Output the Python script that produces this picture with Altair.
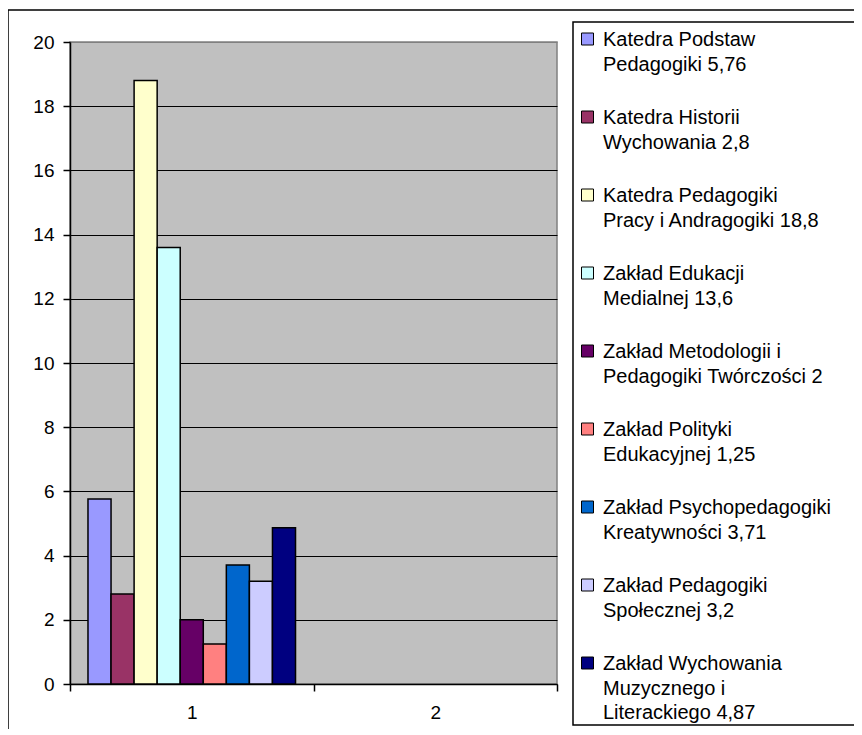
import altair as alt
import pandas as pd

series = [
    "Katedra Podstaw Pedagogiki",
    "Katedra Historii Wychowania",
    "Katedra Pedagogiki Pracy i Andragogiki",
    "Zakład Edukacji Medialnej",
    "Zakład Metodologii i Pedagogiki Twórczości",
    "Zakład Polityki Edukacyjnej",
    "Zakład Psychopedagogiki Kreatywności",
    "Zakład Pedagogiki Społecznej",
    "Zakład Wychowania Muzycznego i Literackiego",
]
labels = [
    "Katedra Podstaw\nPedagogiki 5,76",
    "Katedra Historii\nWychowania 2,8",
    "Katedra Pedagogiki\nPracy i Andragogiki 18,8",
    "Zakład Edukacji\nMedialnej 13,6",
    "Zakład Metodologii i\nPedagogiki Twórczości 2",
    "Zakład Polityki\nEdukacyjnej 1,25",
    "Zakład Psychopedagogiki\nKreatywności 3,71",
    "Zakład Pedagogiki\nSpołecznej 3,2",
    "Zakład Wychowania\nMuzycznego i\nLiterackiego 4,87",
]
values = [5.76, 2.8, 18.8, 13.6, 2, 1.25, 3.71, 3.2, 4.87]
colors = ["#9999FF", "#993366", "#FFFFCC", "#CCFFFF", "#660066",
          "#FF8080", "#0066CC", "#CCCCFF", "#000080"]
categories = ["1", "2"]

df = pd.DataFrame({"cat": ["1"] * len(series), "series": series,
                   "value": values, "label": labels})
one = pd.DataFrame({"a": [0]})

FONT = "Liberation Sans"
W, H = 487, 642

color = alt.Color("series:N", scale=alt.Scale(domain=series, range=colors), legend=None)

bars = alt.Chart(df).mark_bar(stroke="black", strokeWidth=1.5).encode(
    x=alt.X("cat:N", scale=alt.Scale(domain=categories, paddingInner=0, paddingOuter=0),
            axis=alt.Axis(title=None, labelAngle=0, tickBand="extent", tickSize=7,
                          labelPadding=12, labelFontSize=19, labelFont=FONT,
                          labelColor="black", domainColor="black", domainWidth=1.5,
                          tickColor="black", tickWidth=1.5, grid=False)),
    xOffset=alt.XOffset("series:N", scale=alt.Scale(domain=series, paddingInner=0, paddingOuter=0.78)),
    y=alt.Y("value:Q", scale=alt.Scale(domain=[0, 20], nice=False),
            axis=alt.Axis(title=None, values=list(range(0, 21, 2)), tickSize=7,
                          labelPadding=9, labelFontSize=19, labelFont=FONT,
                          labelColor="black", domainColor="black", domainWidth=1.5,
                          tickColor="black", tickWidth=1.5,
                          gridColor=alt.condition("datum.value == 20", alt.value("#808080"), alt.value("black")),
                          gridWidth=1, gridOpacity=1)),
    color=color,
)

leg_y = alt.Y("series:N", scale=alt.Scale(type="point", domain=series, range=[-3, 621], padding=0),
              axis=None)

symbols = alt.Chart(df).mark_square(size=144, stroke="black", strokeWidth=1, opacity=1).encode(
    x=alt.value(517.5), y=leg_y, color=color,
)
texts = alt.Chart(df).mark_text(align="left", baseline="alphabetic", dy=7, lineBreak="\n",
                                lineHeight=24.5, fontSize=20, font=FONT, color="black").encode(
    x=alt.value(533), y=leg_y, text="label:N",
)
legend_box = alt.Chart(one).mark_rect(fill=None, stroke="black", strokeWidth=1.5).encode(
    x=alt.value(503), x2=alt.value(820), y=alt.value(-20), y2=alt.value(683),
)
outer_box = alt.Chart(one).mark_rect(fill=None, stroke="black", strokeWidth=1.5).encode(
    x=alt.value(-62), x2=alt.value(840), y=alt.value(-32), y2=alt.value(730),
)

chart = alt.layer(bars, symbols, texts, legend_box, outer_box).resolve_scale(
    y="independent"
).properties(
    width=W, height=H,
    autosize=alt.AutoSizeParams(type="none"),
    padding={"left": 62, "top": 34, "right": 297, "bottom": 45},
    background="white",
).configure_view(
    fill="#C0C0C0", stroke="#808080", strokeWidth=1.5,
)

chart.save("out.html", embed_options={"renderer": "svg", "actions": False})
